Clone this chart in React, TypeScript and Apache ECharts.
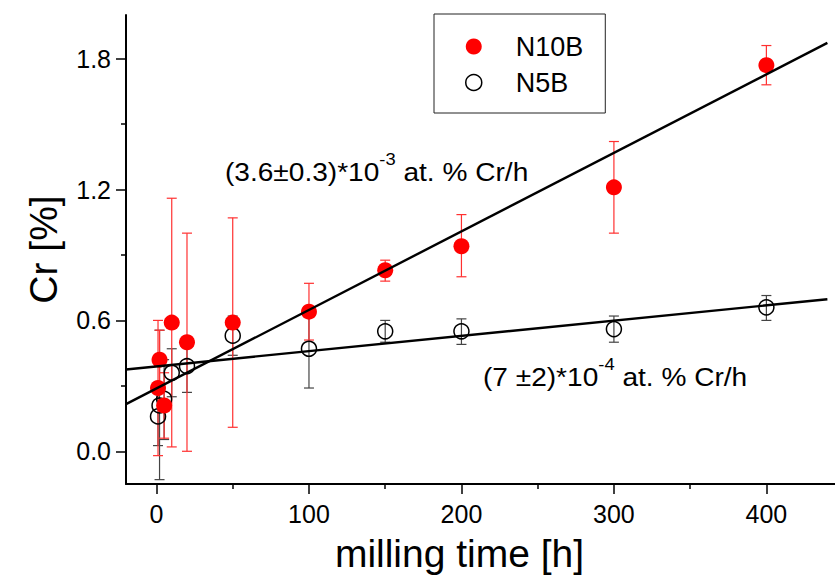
import React, { useEffect, useRef } from "react";
import * as echarts from "echarts";

// N10B series (filled red)
const N10B_X = [1, 2, 5, 10, 20, 50, 100, 150, 200, 300, 400];
const N10B_Y = [0.29, 0.42, 0.21, 0.59, 0.5, 0.59, 0.64, 0.83, 0.94, 1.21, 1.77];
const N10B_LOW = [-0.02, 0.29, 0.06, 0.02, 0.0, 0.11, 0.51, 0.78, 0.8, 1.0, 1.68];
const N10B_HIGH = [0.6, 0.555, 0.36, 1.16, 1.0, 1.07, 0.77, 0.876, 1.085, 1.42, 1.86];

// N5B series (open black)
const N5B_X = [1, 2, 5, 10, 20, 50, 100, 150, 200, 300, 400];
const N5B_Y = [0.16, 0.21, 0.24, 0.36, 0.39, 0.53, 0.47, 0.55, 0.55, 0.56, 0.66];
const N5B_LOW = [0.026, -0.13, 0.054, 0.25, 0.27, 0.44, 0.29, 0.5, 0.49, 0.5, 0.6];
const N5B_HIGH = [0.3, 0.555, 0.42, 0.47, 0.51, 0.62, 0.65, 0.6, 0.607, 0.62, 0.714];

// linear fits: [N10B, N5B]
const FIT_SLOPE = [0.0036, 0.0007];
const FIT_INTERCEPT = [0.288, 0.389];
const FIT_RANGE = [-20, 440];

// axes
const X_MAJOR = [0, 100, 200, 300, 400];
const X_MINOR = [50, 150, 250, 350];
const Y_MAJOR = [0, 0.6, 1.2, 1.8];
const Y_MINOR = [0.3, 0.9, 1.5];

const FONT = "'Liberation Sans', Arial, sans-serif";

function errorBar(color: string) {
  return (params: any, api: any) => {
    const x = api.value(0);
    const top = api.coord([x, api.value(2)]);
    const bot = api.coord([x, api.value(1)]);
    const hw = 5;
    const style = { stroke: color, lineWidth: 1.2, fill: "none" };
    return {
      type: "group",
      children: [
        { type: "line", shape: { x1: top[0], y1: top[1], x2: bot[0], y2: bot[1] }, style },
        { type: "line", shape: { x1: top[0] - hw, y1: top[1], x2: top[0] + hw, y2: top[1] }, style },
        { type: "line", shape: { x1: bot[0] - hw, y1: bot[1], x2: bot[0] + hw, y2: bot[1] }, style },
      ],
    };
  };
}

export default function App() {
  const ref = useRef<HTMLDivElement>(null);
  useEffect(() => {
    if (!ref.current) return;
    const chart = echarts.init(ref.current, null, { renderer: "svg" });
    const axisLine = { show: true, onZero: false, lineStyle: { color: "#000", width: 2 } };
    const xBase = { type: "value", min: -20, max: 445, splitLine: { show: false }, position: "bottom", gridIndex: 0 };
    const yBase = { type: "value", min: -0.15, max: 2.0, splitLine: { show: false }, position: "left", gridIndex: 0 };
    const fitData = (k: number) => FIT_RANGE.map((x) => [x, FIT_INTERCEPT[k] + FIT_SLOPE[k] * x]);
    const rich = {
      n: { fontSize: 26, fontFamily: FONT, fill: "#000", lineHeight: 34, verticalAlign: "bottom" },
      s: { fontSize: 17, fontFamily: FONT, fill: "#000", lineHeight: 17, verticalAlign: "top" },
    };
    chart.setOption({
      animation: false,
      textStyle: { fontFamily: FONT, color: "#000" },
      grid: { left: 126, top: 15, right: 0, bottom: 97, containLabel: false },
      xAxis: [
        {
          ...xBase,
          axisLine,
          axisTick: { show: true, customValues: X_MAJOR, length: 10, lineStyle: { color: "#000", width: 1.5 } },
          axisLabel: {
            customValues: X_MAJOR,
            fontSize: 25,
            color: "#000",
            fontFamily: FONT,
            margin: 17,
            formatter: (v: number) => String(Math.round(v)),
          },
          name: "milling time [h]",
          nameLocation: "middle",
          nameGap: 50,
          nameTextStyle: { fontSize: 39, color: "#000", fontFamily: FONT, padding: [0, 42, 0, 0] },
        },
        {
          ...xBase,
          axisLine: { show: false, onZero: false },
          axisTick: { show: true, customValues: X_MINOR, length: 5, lineStyle: { color: "#000", width: 1.5 } },
          axisLabel: { show: false },
        },
      ],
      yAxis: [
        {
          ...yBase,
          axisLine,
          axisTick: { show: true, customValues: Y_MAJOR, length: 10, lineStyle: { color: "#000", width: 1.5 } },
          axisLabel: {
            customValues: Y_MAJOR,
            fontSize: 25,
            color: "#000",
            fontFamily: FONT,
            margin: 15,
            formatter: (v: number) => v.toFixed(1),
          },
          name: "Cr [%]",
          nameLocation: "middle",
          nameGap: 63,
          nameTextStyle: { fontSize: 39, color: "#000", fontFamily: FONT },
        },
        {
          ...yBase,
          axisLine: { show: false, onZero: false },
          axisTick: { show: true, customValues: Y_MINOR, length: 5, lineStyle: { color: "#000", width: 1.5 } },
          axisLabel: { show: false },
        },
      ],
      legend: {
        orient: "vertical",
        left: 434,
        top: 14,
        padding: [19, 22, 17, 31],
        itemGap: 9,
        itemWidth: 16,
        itemHeight: 16,
        borderColor: "#222",
        borderWidth: 1,
        textStyle: { fontSize: 27, color: "#000", fontFamily: FONT, padding: [0, 0, 0, 29] },
        data: [
          { name: "N10B", icon: "circle", itemStyle: { color: "#ff0000", borderWidth: 0 } },
          { name: "N5B", icon: "circle", itemStyle: { color: "#fff", borderColor: "#000", borderWidth: 1.5 } },
        ],
      },
      graphic: [
        {
          type: "text",
          x: 225,
          y: 168,
          scaleX: 1.08,
          style: {
            text: "{n|(3.6±0.3)*10}{s|-3}{n| at. % Cr/h}",
            verticalAlign: "middle",
            rich,
          },
        },
        {
          type: "text",
          x: 483,
          y: 373,
          scaleX: 1.08,
          style: {
            text: "{n|(7 ±2)*10}{s|-4}{n| at. % Cr/h}",
            verticalAlign: "middle",
            rich,
          },
        },
      ],
      series: [
        {
          name: "N5B err",
          type: "custom",
          renderItem: errorBar("#444"),
          data: N5B_X.map((x, i) => [x, N5B_LOW[i], N5B_HIGH[i]]),
          encode: { x: 0, y: [1, 2] },
          z: 1,
          silent: true,
        },
        {
          name: "N10B err",
          type: "custom",
          renderItem: errorBar("#ff3030"),
          data: N10B_X.map((x, i) => [x, N10B_LOW[i], N10B_HIGH[i]]),
          encode: { x: 0, y: [1, 2] },
          z: 2,
          silent: true,
        },
        {
          name: "N5B",
          type: "scatter",
          symbol: "circle",
          symbolSize: 15,
          itemStyle: { color: "rgba(255,255,255,0)", borderColor: "#000", borderWidth: 1.5, opacity: 1 },
          data: N5B_X.map((x, i) => [x, N5B_Y[i]]),
          z: 3,
        },
        {
          name: "N10B",
          type: "scatter",
          symbol: "circle",
          symbolSize: 16,
          itemStyle: { color: "#ff0000", opacity: 1 },
          data: N10B_X.map((x, i) => [x, N10B_Y[i]]),
          z: 4,
        },
        {
          name: "fit N10B",
          type: "line",
          data: fitData(0),
          showSymbol: false,
          lineStyle: { color: "#000", width: 2.4 },
          z: 5,
          silent: true,
        },
        {
          name: "fit N5B",
          type: "line",
          data: fitData(1),
          showSymbol: false,
          lineStyle: { color: "#000", width: 2.4 },
          z: 5,
          silent: true,
        },
      ],
    });
    return () => chart.dispose();
  }, []);
  return (
    <div
      ref={ref}
      style={{ position: "absolute", left: 0, top: 0, width: 835, height: 581, background: "#fff" }}
    />
  );
}
